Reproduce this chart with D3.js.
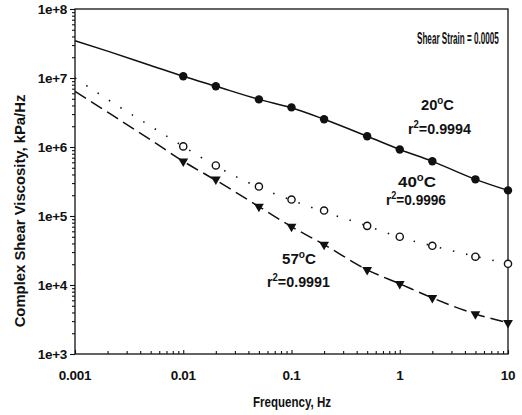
<!DOCTYPE html>
<html>
<head>
<meta charset="utf-8">
<script src="https://cdn.jsdelivr.net/npm/d3@7"></script>
<style>
  body { margin: 0; background: #fff; }
  svg text { font-family: "Liberation Sans Narrow", "Liberation Sans", Arial, sans-serif; font-weight: bold; fill: #111; }
</style>
</head>
<body>
<div id="graph"></div>
<script>
// frequencies of the measured points, Hz
const freqs = [0.01, 0.02, 0.05, 0.1, 0.2, 0.5, 1, 2, 5, 10];

// measured complex shear viscosity, kPa/Hz
const visc20 = [1.06e7, 7.6e6, 4.9e6, 3.75e6, 2.52e6, 1.43e6, 9.2e5, 6.2e5, 3.4e5, 2.35e5];
const visc40 = [1.02e6, 5.4e5, 2.67e5, 1.73e5, 1.2e5, 7.2e4, 5.0e4, 3.7e4, 2.57e4, 2.03e4];
const visc57 = [6.2e5, 3.4e5, 1.37e5, 7.0e4, 3.85e4, 1.66e4, 1.04e4, 6.5e3, 3.8e3, 2.83e3];

// fitted curves
const fitFreqs = [0.001, 0.002, 0.005, 0.01, 0.02, 0.05, 0.1, 0.2, 0.5, 1, 2, 5, 10];
const fit20 = [3.46e7, 2.45e7, 1.52e7, 1.06e7, 7.6e6, 4.9e6, 3.7e6, 2.52e6, 1.43e6, 9.2e5, 6.2e5, 3.4e5, 2.35e5];
const fit40 = [1.0e7, 4.9e6, 2.0e6, 1.02e6, 5.3e5, 2.6e5, 1.7e5, 1.15e5, 7.2e4, 4.9e4, 3.7e4, 2.6e4, 2.03e4];
const fit57 = [6.4e6, 3.2e6, 1.27e6, 6.2e5, 3.3e5, 1.37e5, 7.0e4, 3.85e4, 1.66e4, 1.04e4, 6.5e3, 3.8e3, 2.83e3];

const xTicks = [0.001, 0.01, 0.1, 1, 10];
const xTickLabels = ["0.001", "0.01", "0.1", "1", "10"];
const yTicks = [1e3, 1e4, 1e5, 1e6, 1e7, 1e8];
const yTickLabels = ["1e+3", "1e+4", "1e+5", "1e+6", "1e+7", "1e+8"];

const w = 522, h = 415;
const margin = { top: 9, right: 14, bottom: 61, left: 75 };

const svg = d3.select("#graph").append("svg")
  .attr("width", w).attr("height", h);

svg.append("rect").attr("width", w).attr("height", h).attr("fill", "#fff");

const xScale = d3.scaleLog().domain([0.001, 10]).range([margin.left, w - margin.right]);
const yScale = d3.scaleLog().domain([1e3, 1e8]).range([h - margin.bottom, margin.top]);

// minor tick values
function minors(lo, hi) {
  const out = [];
  for (let e = lo; e < hi; e++) {
    for (let k = 2; k <= 9; k++) out.push(k * Math.pow(10, e));
  }
  return out;
}

// squeeze a text horizontally so it is `width` px wide, placed at x,y
function squeeze(t, x, y, width) {
  const natural = t.node().getComputedTextLength();
  const k = width / natural;
  t.attr("x", 0).attr("y", 0)
    .attr("transform", `translate(${x}, ${y}) scale(${k}, 1)`);
  return t;
}

// frame
svg.append("rect")
  .attr("x", xScale(0.001)).attr("y", yScale(1e8))
  .attr("width", xScale(10) - xScale(0.001))
  .attr("height", yScale(1e3) - yScale(1e8))
  .attr("fill", "none").attr("stroke", "#111").attr("stroke-width", 1.3);

// x axis (ticks point inward)
const xAxisMajor = d3.axisTop(xScale).tickValues(xTicks).tickSize(4).tickFormat("");
const xAxisMinor = d3.axisTop(xScale).tickValues(minors(-3, 1)).tickSize(3).tickFormat("");
svg.append("g").attr("transform", `translate(0, ${yScale(1e3)})`).call(xAxisMajor)
  .call(g => g.select(".domain").remove());
svg.append("g").attr("transform", `translate(0, ${yScale(1e3)})`).call(xAxisMinor)
  .call(g => g.select(".domain").remove());

svg.selectAll(".xlab").data(xTicks).enter().append("text")
  .attr("class", "xlab")
  .attr("x", d => xScale(d))
  .attr("y", 380)
  .attr("text-anchor", "middle")
  .attr("font-size", 13.5)
  .attr("letter-spacing", -0.3)
  .text((d, i) => xTickLabels[i]);

// y axis (ticks point outward)
const yAxisMajor = d3.axisLeft(yScale).tickValues(yTicks).tickSize(5).tickFormat("");
const yAxisMinor = d3.axisLeft(yScale).tickValues(minors(3, 8)).tickSize(3).tickFormat("");
svg.append("g").attr("transform", `translate(${xScale(0.001)}, 0)`).call(yAxisMajor)
  .call(g => g.select(".domain").remove());
svg.append("g").attr("transform", `translate(${xScale(0.001)}, 0)`).call(yAxisMinor)
  .call(g => g.select(".domain").remove());
svg.selectAll(".tick line").attr("stroke", "#111").attr("stroke-width", 1.1);

svg.selectAll(".ylab").data(yTicks).enter().append("text")
  .attr("class", "ylab")
  .attr("x", 67)
  .attr("y", d => yScale(d) + 5)
  .attr("text-anchor", "end")
  .attr("font-size", 13.5)
  .attr("letter-spacing", -0.3)
  .text((d, i) => yTickLabels[i]);

// axis titles
const xTitle = svg.append("text")
  .attr("text-anchor", "middle")
  .attr("font-size", 15)
  .text("Frequency, Hz");
squeeze(xTitle, 292, 407, 78);

const yTitle = svg.append("text")
  .attr("text-anchor", "middle")
  .attr("font-size", 15)
  .text("Complex Shear Viscosity, kPa/Hz");
const yk = 233 / yTitle.node().getComputedTextLength();
yTitle.attr("transform", `translate(25, 211) rotate(-90) scale(${yk}, 1)`);

// fit lines
const line = d3.line()
  .x(d => xScale(d[0]))
  .y(d => yScale(d[1]))
  .curve(d3.curveMonotoneX);

svg.append("path")
  .datum(fitFreqs.map((f, i) => [f, fit20[i]]))
  .attr("d", line).attr("fill", "none")
  .attr("stroke", "#111").attr("stroke-width", 1.5);

svg.append("path")
  .datum(fitFreqs.map((f, i) => [f, fit40[i]]))
  .attr("d", line).attr("fill", "none")
  .attr("stroke", "#111").attr("stroke-width", 1.6)
  .attr("stroke-dasharray", "1.5,12");

svg.append("path")
  .datum(fitFreqs.map((f, i) => [f, fit57[i]]))
  .attr("d", line).attr("fill", "none")
  .attr("stroke", "#111").attr("stroke-width", 1.5)
  .attr("stroke-dasharray", "13,6");

// markers
svg.selectAll(".p20").data(freqs).enter().append("circle")
  .attr("class", "p20")
  .attr("cx", d => xScale(d))
  .attr("cy", (d, i) => yScale(visc20[i]))
  .attr("r", 4.2)
  .attr("fill", "#111");

svg.selectAll(".p40").data(freqs).enter().append("circle")
  .attr("class", "p40")
  .attr("cx", d => xScale(d))
  .attr("cy", (d, i) => yScale(visc40[i]))
  .attr("r", 3.6)
  .attr("fill", "#fff")
  .attr("stroke", "#111")
  .attr("stroke-width", 1.4);

const tri = d3.symbol().type(d3.symbolTriangle).size(42);
svg.selectAll(".p57").data(freqs).enter().append("path")
  .attr("class", "p57")
  .attr("d", tri)
  .attr("transform", (d, i) => `translate(${xScale(d)}, ${yScale(visc57[i])}) rotate(180)`)
  .attr("fill", "#111");

// annotations; parts are plain text or a superscript
function label(x, y, width, parts, size) {
  const t = svg.append("text")
    .attr("font-size", size || 15);
  let shift = 0;
  parts.forEach(p => {
    if (p.sup) {
      t.append("tspan").attr("dy", -6).attr("font-size", 10).text(p.sup);
      shift = 6;
    } else {
      t.append("tspan").attr("dy", shift).text(p.t);
      shift = 0;
    }
  });
  return squeeze(t, x, y, width);
}

label(417, 44, 82, [{ t: "Shear Strain = 0.0005" }], 16);
label(421, 110, 33, [{ t: "20" }, { sup: "o" }, { t: "C" }]);
label(408, 134, 63, [{ t: "r" }, { sup: "2" }, { t: "=0.9994" }]);
label(398, 187, 38, [{ t: "40" }, { sup: "o" }, { t: "C" }]);
label(386, 205, 60, [{ t: "r" }, { sup: "2" }, { t: "=0.9996" }]);
label(282, 264, 34, [{ t: "57" }, { sup: "o" }, { t: "C" }]);
label(267, 287, 63, [{ t: "r" }, { sup: "2" }, { t: "=0.9991" }]);
</script>
</body>
</html>
